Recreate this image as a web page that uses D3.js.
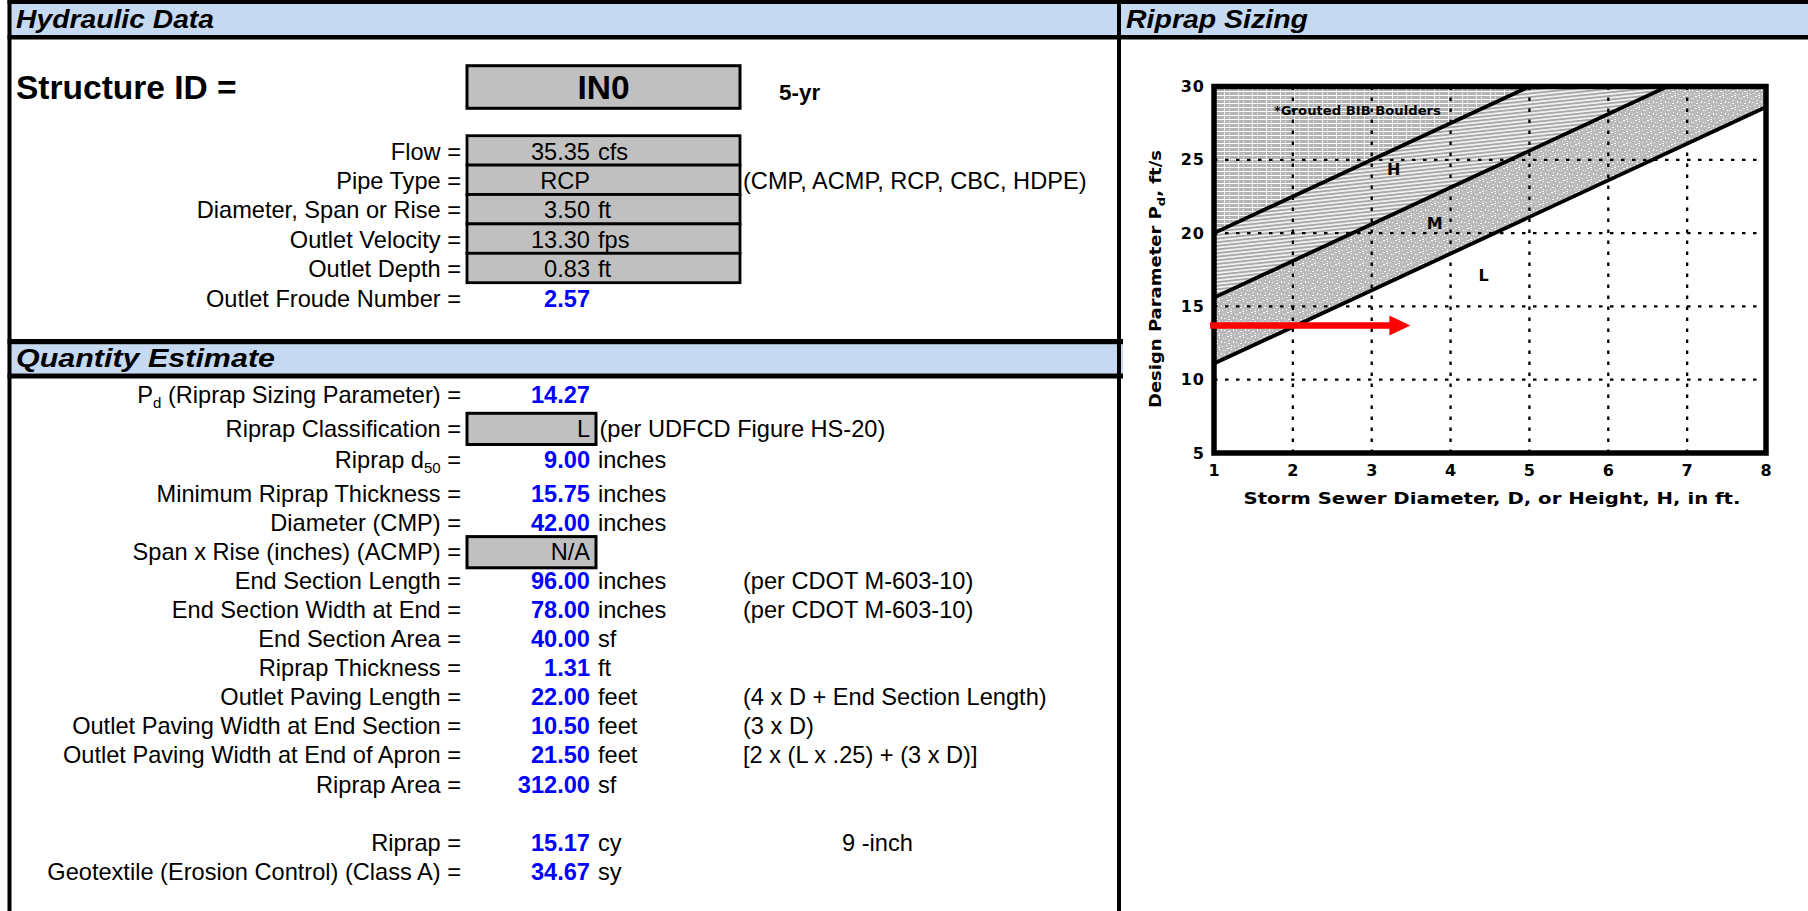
<!DOCTYPE html>
<html><head><meta charset="utf-8">
<script src="https://cdn.jsdelivr.net/npm/d3@7"></script>
<style>
html,body{margin:0;padding:0;background:#fff;overflow:hidden}
svg{display:block}
</style>
</head><body>
<svg id="c" width="1808" height="911"></svg>
<script>
// ---------------- DATA ----------------
const sectionTitles = ["Hydraulic Data", "Riprap Sizing", "Quantity Estimate"];
const structureLabel = "Structure ID =";
const structureId = "IN0";
const stormEvent = "5-yr";

const hydLabels = ["Flow =", "Pipe Type =", "Diameter, Span or Rise =", "Outlet Velocity =", "Outlet Depth =", "Outlet Froude Number ="];
const hydValues = ["35.35", "RCP", "3.50", "13.30", "0.83", "2.57"];
const hydUnits  = ["cfs", "", "ft", "fps", "ft", ""];
const hydInput  = [true, true, true, true, true, false];
const hydNotes  = ["", "(CMP, ACMP, RCP, CBC, HDPE)", "", "", "", ""];

const qtyLabels = ["P_{d} (Riprap Sizing Parameter) =", "Riprap Classification =", "Riprap d_{50} =",
  "Minimum Riprap Thickness =", "Diameter (CMP) =", "Span x Rise (inches) (ACMP) =", "End Section Length =",
  "End Section Width at End =", "End Section Area =", "Riprap Thickness =", "Outlet Paving Length =",
  "Outlet Paving Width at End Section =", "Outlet Paving Width at End of Apron =", "Riprap Area =",
  "Riprap =", "Geotextile (Erosion Control) (Class A) ="];
const qtyValues = ["14.27", "L", "9.00", "15.75", "42.00", "N/A", "96.00", "78.00", "40.00", "1.31",
  "22.00", "10.50", "21.50", "312.00", "15.17", "34.67"];
const qtyUnits  = ["", "", "inches", "inches", "inches", "", "inches", "inches", "sf", "ft",
  "feet", "feet", "feet", "sf", "cy", "sy"];
const qtyInput  = [false, true, false, false, false, true, false, false, false, false, false, false, false, false, false, false];
const qtyNotes  = ["", "(per UDFCD Figure HS-20)", "", "", "", "", "(per CDOT M-603-10)", "(per CDOT M-603-10)",
  "", "", "(4 x D + End Section Length)", "(3 x D)", "[2 x (L x .25) + (3 x D)]", "", "9 -inch", ""];

// chart (UDFCD Figure HS-20) data
const xTicks = [1, 2, 3, 4, 5, 6, 7, 8];
const yTicks = [5, 10, 15, 20, 25, 30];
const xGrid = [2, 3, 4, 5, 6, 7];
const yGrid = [10, 15, 20, 25];
const upperLine  = [[1, 20.0], [5.0, 30]];
const middleLine = [[1, 15.6], [6.75, 30]];
const lowerLine  = [[1, 11.1], [8, 28.6]];
const zoneNames = ["H", "M", "L"];
const zoneX = [3.28, 3.80, 4.42];
const zoneY = [24.35, 20.7, 17.14];
const groutText = "*Grouted BIB Boulders";
const groutPos = [1.76, 28.33];
const arrowY = 13.7;
const arrowX = [0.95, 3.49];
const xTitle = "Storm Sewer Diameter, D, or Height, H, in ft.";
const yTitleParts = ["Design Parameter P", "d", ", ft/s"];

// ---------------- LAYOUT ----------------
const svg = d3.select("#c");
const F = "Liberation Sans, Arial, sans-serif";
const CF = "DejaVu Sans, Verdana, sans-serif";
const blue = "#C5D9F1";
const boxFill = "#C0C0C0";
const valBlue = "#0000FF";
const fs = 23.6;
const labelRight = 461, valueRight = 590, unitLeft = 598, noteLeft = 743;
const boxX = 467, boxW = 273, smallBoxW = 129;

// frame
const LX = 7.5;
svg.append("rect").attr("x", LX).attr("y", 0).attr("width", 1808 - LX).attr("height", 4).attr("fill", "#000");
svg.append("rect").attr("x", LX).attr("y", 4).attr("width", 1808 - LX).attr("height", 31).attr("fill", blue);
svg.append("rect").attr("x", LX).attr("y", 35).attr("width", 1808 - LX).attr("height", 4.5).attr("fill", "#000");
svg.append("rect").attr("x", LX).attr("y", 339).attr("width", 1123 - LX).attr("height", 5.5).attr("fill", "#000");
svg.append("rect").attr("x", LX).attr("y", 344.5).attr("width", 1123 - LX).attr("height", 29).attr("fill", blue);
svg.append("rect").attr("x", LX).attr("y", 373.5).attr("width", 1123 - LX).attr("height", 5).attr("fill", "#000");
svg.append("rect").attr("x", LX).attr("y", 0).attr("width", 4).attr("height", 911).attr("fill", "#000");
svg.append("rect").attr("x", 1117).attr("y", 0).attr("width", 4).attr("height", 911).attr("fill", "#000");

const titleX = [16, 1126, 16], titleY = [28.3, 28.3, 367.2], titleW = [198, 182, 259];
svg.selectAll("text.sect").data(sectionTitles).join("text").attr("class", "sect")
  .attr("x", (d, i) => titleX[i]).attr("y", (d, i) => titleY[i])
  .attr("font-family", F).attr("font-size", 25.5).attr("font-weight", "bold").attr("font-style", "italic")
  .attr("textLength", (d, i) => titleW[i]).attr("lengthAdjust", "spacingAndGlyphs")
  .text(d => d);

// structure id
svg.append("text").attr("x", 16).attr("y", 98.5).attr("font-family", F).attr("font-size", 33.5)
  .attr("font-weight", "bold").text(structureLabel);
svg.append("rect").attr("x", boxX).attr("y", 65.7).attr("width", boxW).attr("height", 42.6)
  .attr("fill", boxFill).attr("stroke", "#000").attr("stroke-width", 3);
svg.append("text").attr("x", boxX + boxW / 2).attr("y", 98.5).attr("text-anchor", "middle")
  .attr("font-family", F).attr("font-size", 33.5).attr("font-weight", "bold").text(structureId);
svg.append("text").attr("x", 779).attr("y", 99.5).attr("font-family", F).attr("font-size", 22.5)
  .attr("font-weight", "bold").text(stormEvent);

// hydraulic rows
const hydTop = 135.7, hydH = 29.4;
const hydY = i => hydTop + hydH * i + 23.8;
const hydIdx = d3.range(hydLabels.length);
svg.selectAll("rect.hbox").data(hydIdx.filter(i => hydInput[i])).join("rect").attr("class", "hbox")
  .attr("x", boxX).attr("y", i => hydTop + hydH * i).attr("width", boxW).attr("height", hydH)
  .attr("fill", boxFill).attr("stroke", "#000").attr("stroke-width", 2.8);

function addRow(g, label, value, unit, note, input, y, nx) {
  const t = g.append("text").attr("x", labelRight).attr("y", y).attr("text-anchor", "end")
    .attr("font-family", F).attr("font-size", fs);
  const parts = label.split(/_\{(.*?)\}/);
  parts.forEach((p, k) => {
    if (!p) return;
    if (k % 2 === 1) t.append("tspan").attr("font-size", 15).attr("dy", 5).text(p);
    else t.append("tspan").attr("dy", k > 0 ? -5 : 0).text(p);
  });
  g.append("text").attr("x", valueRight).attr("y", y).attr("text-anchor", "end")
    .attr("font-family", F).attr("font-size", fs)
    .attr("font-weight", input ? "normal" : "bold").attr("fill", input ? "#000" : valBlue).text(value);
  if (unit) g.append("text").attr("x", unitLeft).attr("y", y).attr("font-family", F).attr("font-size", fs).text(unit);
  if (note) g.append("text").attr("x", nx).attr("y", y).attr("font-family", F).attr("font-size", fs).text(note);
}
const gH = svg.append("g");
hydIdx.forEach(i => addRow(gH, hydLabels[i], hydValues[i], hydUnits[i], hydNotes[i], hydInput[i], hydY(i), noteLeft));

// quantity rows
const qtyBase = [403.3, 436.7, 468.3, 502, 531, 560, 588.5, 617.7, 646.7, 675.7, 704.5, 733.5, 763, 792.5, 850.7, 880];
const qtyNoteX = i => qtyInput[i] ? 599.5 : (qtyUnits[i] === "cy" ? 842 : noteLeft);
const qtyIdx = d3.range(qtyLabels.length);
svg.selectAll("rect.qbox").data(qtyIdx.filter(i => qtyInput[i])).join("rect").attr("class", "qbox")
  .attr("x", boxX).attr("y", i => qtyBase[i] - 23.4).attr("width", smallBoxW).attr("height", 31.2)
  .attr("fill", boxFill).attr("stroke", "#000").attr("stroke-width", 3);
const gQ = svg.append("g");
qtyIdx.forEach(i => addRow(gQ, qtyLabels[i], qtyValues[i], qtyUnits[i], qtyNotes[i], qtyInput[i], qtyBase[i], qtyNoteX(i)));

// ---------------- CHART ----------------
const x = d3.scaleLinear().domain([1, 8]).range([1214, 1766]);
const y = d3.scaleLinear().domain([5, 30]).range([453, 86.5]);
const defs = svg.append("defs");

// grouted pattern
const pg = defs.append("pattern").attr("id", "pGrout").attr("patternUnits", "userSpaceOnUse")
  .attr("width", 14).attr("height", 4);
pg.append("rect").attr("width", 14).attr("height", 4).attr("fill", "#b4b4b4");
pg.append("rect").attr("y", 3).attr("width", 14).attr("height", 1).attr("fill", "#fff");
pg.append("rect").attr("x", 6).attr("width", 1).attr("height", 3).attr("fill", "#f0f0f0");
pg.append("rect").attr("x", 11).attr("y", 1).attr("width", 1).attr("height", 1).attr("fill", "#fff");
// H pattern
const ph = defs.append("pattern").attr("id", "pH").attr("patternUnits", "userSpaceOnUse")
  .attr("width", 20).attr("height", 3.6).attr("patternTransform", "rotate(-6)");
ph.append("rect").attr("width", 20).attr("height", 3.6).attr("fill", "#f4f4f4");
ph.append("rect").attr("y", 0).attr("width", 20).attr("height", 1.9).attr("fill", "#a8a8a8");
// M stipple pattern
const pm = defs.append("pattern").attr("id", "pM").attr("patternUnits", "userSpaceOnUse")
  .attr("width", 12).attr("height", 12);
pm.append("rect").attr("width", 12).attr("height", 12).attr("fill", "#bababa");
[[1,2,1,1],[4,7,2,1],[7,1,1,1],[9,5,1,2],[2,9,1,1],[5,4,1,1],[10,10,1,1],[3,0,2,1],[0,6,1,1],[7,9,1,1],[11,2,1,1],[6,11,2,1]]
  .forEach(s => pm.append("rect").attr("x", s[0]).attr("y", s[1]).attr("width", s[2]).attr("height", s[3]).attr("fill", "#fff"));

const [x0, x1] = x.domain(), [y0, y1] = y.domain();
const poly = pts => pts.map(p => [x(p[0]), y(p[1])].join(",")).join(" ");
const regions = [
  { pts: [upperLine[0], upperLine[1], [x0, y1]], fill: "url(#pGrout)" },
  { pts: [upperLine[0], upperLine[1], middleLine[1], middleLine[0]], fill: "url(#pH)" },
  { pts: [middleLine[0], middleLine[1], [x1, y1], lowerLine[1], lowerLine[0]], fill: "url(#pM)" }
];
svg.append("g").selectAll("polygon").data(regions).join("polygon")
  .attr("points", d => poly(d.pts)).attr("fill", d => d.fill);

// grid
const gg = svg.append("g").attr("stroke", "#000").attr("stroke-width", 2.3).attr("stroke-dasharray", "3.5,7.5");
gg.selectAll("line.v").data(xGrid).join("line").attr("class", "v")
  .attr("x1", d => x(d)).attr("x2", d => x(d)).attr("y1", y(y0)).attr("y2", y(y1));
gg.selectAll("line.h").data(yGrid).join("line").attr("class", "h")
  .attr("x1", x(x0)).attr("x2", x(x1)).attr("y1", d => y(d)).attr("y2", d => y(d));

// boundary lines
const line = d3.line().x(d => x(d[0])).y(d => y(d[1]));
svg.append("g").selectAll("path").data([upperLine, middleLine, lowerLine]).join("path")
  .attr("d", line).attr("fill", "none").attr("stroke", "#000").attr("stroke-width", 3.8);

// plot frame
svg.append("rect").attr("x", x(x0)).attr("y", y(y1)).attr("width", x(x1) - x(x0)).attr("height", y(y0) - y(y1))
  .attr("fill", "none").attr("stroke", "#000").attr("stroke-width", 5.5);

// zone labels
svg.append("g").selectAll("text").data(zoneNames).join("text")
  .attr("x", (d, i) => x(zoneX[i])).attr("y", (d, i) => y(zoneY[i]) + 6).attr("text-anchor", "middle")
  .attr("font-family", CF).attr("font-size", 16).attr("font-weight", "bold").text(d => d);
svg.append("text").attr("x", x(groutPos[0])).attr("y", y(groutPos[1]) + 4.5)
  .attr("font-family", CF).attr("font-size", 11.5).attr("font-weight", "bold")
  .attr("textLength", 167).attr("lengthAdjust", "spacingAndGlyphs").text(groutText);

// axes
const ax = svg.append("g").attr("transform", `translate(0,${y(y0)})`)
  .call(d3.axisBottom(x).tickValues(xTicks).tickSize(0).tickPadding(12).tickFormat(d3.format("d")));
const ay = svg.append("g").attr("transform", `translate(${x(x0)},0)`)
  .call(d3.axisLeft(y).tickValues(yTicks).tickSize(0).tickPadding(9).tickFormat(d3.format("d")));
[ax, ay].forEach(a => {
  a.select(".domain").remove();
  a.attr("font-family", CF).attr("font-size", 16);
  a.selectAll("text").attr("font-family", CF).attr("font-size", 16).attr("font-weight", "bold")
    .attr("fill", "#000").attr("letter-spacing", 1);
});

// axis titles
svg.append("text").attr("x", 1492).attr("y", 503.5).attr("text-anchor", "middle")
  .attr("font-family", CF).attr("font-size", 15).attr("font-weight", "bold")
  .attr("textLength", 497).attr("lengthAdjust", "spacingAndGlyphs").text(xTitle);
const yt = svg.append("text").attr("transform", "translate(1161,279) rotate(-90)").attr("text-anchor", "middle")
  .attr("font-family", CF).attr("font-size", 15).attr("font-weight", "bold")
  .attr("textLength", 258).attr("lengthAdjust", "spacingAndGlyphs");
yt.append("tspan").text(yTitleParts[0]);
yt.append("tspan").attr("font-size", 11).attr("dy", 4).text(yTitleParts[1]);
yt.append("tspan").attr("dy", -4).text(yTitleParts[2]);

// red arrow (Pd)
const ay0 = y(arrowY), tipX = x(arrowX[1]);
svg.append("line").attr("x1", x(arrowX[0])).attr("x2", tipX - 18).attr("y1", ay0).attr("y2", ay0)
  .attr("stroke", "#FF0000").attr("stroke-width", 6.5);
svg.append("path").attr("d", `M${tipX},${ay0} L${tipX - 21},${ay0 - 10} L${tipX - 21},${ay0 + 10} Z`).attr("fill", "#FF0000");
</script>
</body></html>
